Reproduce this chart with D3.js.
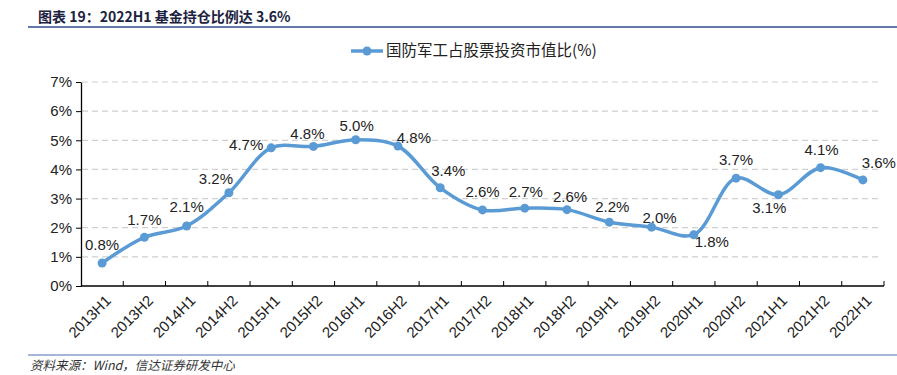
<!DOCTYPE html>
<html>
<head>
<meta charset="utf-8">
<script src="https://cdn.jsdelivr.net/npm/d3@7/dist/d3.min.js"></script>
<style>
  body { margin: 0; background: #fff; }
  svg { display: block; font-family: Arial, "Liberation Sans", "Noto Sans CJK SC", sans-serif; }
</style>
</head>
<body>
<div id="chart"></div>
<script>
// periods and values (%)
const periods = ["2013H1", "2013H2", "2014H1", "2014H2", "2015H1", "2015H2", "2016H1", "2016H2",
  "2017H1", "2017H2", "2018H1", "2018H2", "2019H1", "2019H2", "2020H1", "2020H2", "2021H1", "2021H2", "2022H1"];
const shares = [0.79, 1.67, 2.06, 3.2, 4.74, 4.79, 5.02, 4.8, 3.37, 2.61, 2.67, 2.62, 2.19, 2.02, 1.76, 3.7, 3.13, 4.06, 3.64];
const yTicks = [0, 1, 2, 3, 4, 5, 6, 7];
const seriesName = "国防军工占股票投资市值比(%)";

// label nudges (dx, dy from the point)
const labelOffsets = [[0, -18], [0, -18], [0, -19], [-13, -14], [-25, -3], [-6, -13], [1, -14], [16, -8],
  [8, -17], [0, -18], [1, -16], [3, -13], [3, -15], [8, -9], [18, 7], [0, -18], [-9, 13], [1, -18], [16, -17]];

const W = 897, H = 375;
const margin = {top: 82, right: 13, bottom: 89, left: 81};
const width = W - margin.left - margin.right,
  height = H - margin.top - margin.bottom;
const blue = "#5b9bd5";

const root = d3.select("#chart").append("svg")
  .attr("width", W)
  .attr("height", H);

// header
root.append("text")
  .attr("x", 38).attr("y", 22)
  .attr("font-size", 14).attr("font-weight", "bold")
  .attr("fill", "#1c2340")
  .attr("font-family", "'Noto Sans CJK SC', Arial, sans-serif")
  .text("图表 19：2022H1 基金持仓比例达 3.6%");
root.append("line")
  .attr("x1", 28).attr("x2", W).attr("y1", 27).attr("y2", 27)
  .attr("stroke", "#2e4a8e").attr("stroke-width", 1.5);

// footer
root.append("line")
  .attr("x1", 28).attr("x2", W).attr("y1", 355).attr("y2", 355)
  .attr("stroke", "#4f6fb3").attr("stroke-width", 1.2);
root.append("text")
  .attr("x", 30).attr("y", 370)
  .attr("font-size", 12.5).attr("font-style", "italic")
  .attr("fill", "#333")
  .attr("font-family", "'Noto Sans CJK SC', Arial, sans-serif")
  .text("资料来源：Wind，信达证券研发中心");

// legend
const lg = root.append("g").attr("transform", "translate(351,51)");
lg.append("line").attr("x1", 0).attr("x2", 32)
  .attr("stroke", blue).attr("stroke-width", 3.5);
lg.append("circle").attr("cx", 16).attr("r", 4.5).attr("fill", blue);
lg.append("text").attr("x", 35).attr("dy", "0.35em")
  .attr("font-size", 15.5).attr("fill", "#222")
  .attr("font-family", "'Noto Sans CJK SC', Arial, sans-serif")
  .text(seriesName);

const svg = root.append("g")
  .attr("transform", `translate(${margin.left},${margin.top})`);

const x = d3.scaleBand().domain(periods).range([0, width]);
const y = d3.scaleLinear().domain([0, 7]).range([height, 0]);
const cx = d => x(d) + x.bandwidth() / 2;

// dashed grid
svg.append("g")
  .selectAll("line")
  .data(yTicks.filter(t => t > 0))
  .join("line")
  .attr("x1", 1).attr("x2", width - 3)
  .attr("y1", d => y(d)).attr("y2", d => y(d))
  .attr("stroke", "#d0d0d0").attr("stroke-width", 1.2)
  .attr("stroke-dasharray", "6,4");

// y axis
const yAxis = svg.append("g")
  .call(d3.axisLeft(y).tickValues(yTicks).tickFormat(d => d + "%").tickSize(5).tickSizeOuter(0));
yAxis.select(".domain").attr("stroke", "#000").attr("stroke-width", 1.3);
yAxis.selectAll(".tick line").attr("stroke", "#000");
yAxis.selectAll("text").attr("font-size", 15).attr("fill", "#222").attr("x", -9);

// x axis, ticks between bands pointing up
const xAxis = svg.append("g").attr("transform", `translate(0,${height})`);
xAxis.append("line").attr("x1", 0).attr("x2", width)
  .attr("stroke", "#000").attr("stroke-width", 1.3);
xAxis.selectAll(".sep")
  .data(periods)
  .join("line")
  .attr("class", "sep")
  .attr("x1", d => x(d) + x.bandwidth()).attr("x2", d => x(d) + x.bandwidth())
  .attr("y1", 0).attr("y2", -5)
  .attr("stroke", "#000");
xAxis.selectAll(".lbl")
  .data(periods)
  .join("text")
  .attr("class", "lbl")
  .attr("transform", d => `translate(${cx(d) + 6},${12}) rotate(-45)`)
  .attr("text-anchor", "end")
  .attr("dy", "0.35em")
  .attr("font-size", 15).attr("fill", "#222")
  .text(d => d);

// series
const pts = periods.map((p, i) => ({p, v: shares[i], off: labelOffsets[i]}));
svg.append("path")
  .datum(pts)
  .attr("fill", "none")
  .attr("stroke", blue)
  .attr("stroke-width", 3.5)
  .attr("stroke-linejoin", "round")
  .attr("d", d3.line().x(d => cx(d.p)).y(d => y(d.v)).curve(d3.curveCatmullRom.alpha(0.5)));

svg.selectAll(".dot")
  .data(pts)
  .join("circle")
  .attr("class", "dot")
  .attr("cx", d => cx(d.p)).attr("cy", d => y(d.v))
  .attr("r", 4.5).attr("fill", blue);

svg.selectAll(".val")
  .data(pts)
  .join("text")
  .attr("class", "val")
  .attr("x", d => cx(d.p) + d.off[0])
  .attr("y", d => y(d.v) + d.off[1])
  .attr("text-anchor", "middle")
  .attr("dy", "0.35em")
  .attr("font-size", 15).attr("fill", "#222")
  .text(d => d3.format(".1f")(d.v) + "%");
</script>
</body>
</html>
